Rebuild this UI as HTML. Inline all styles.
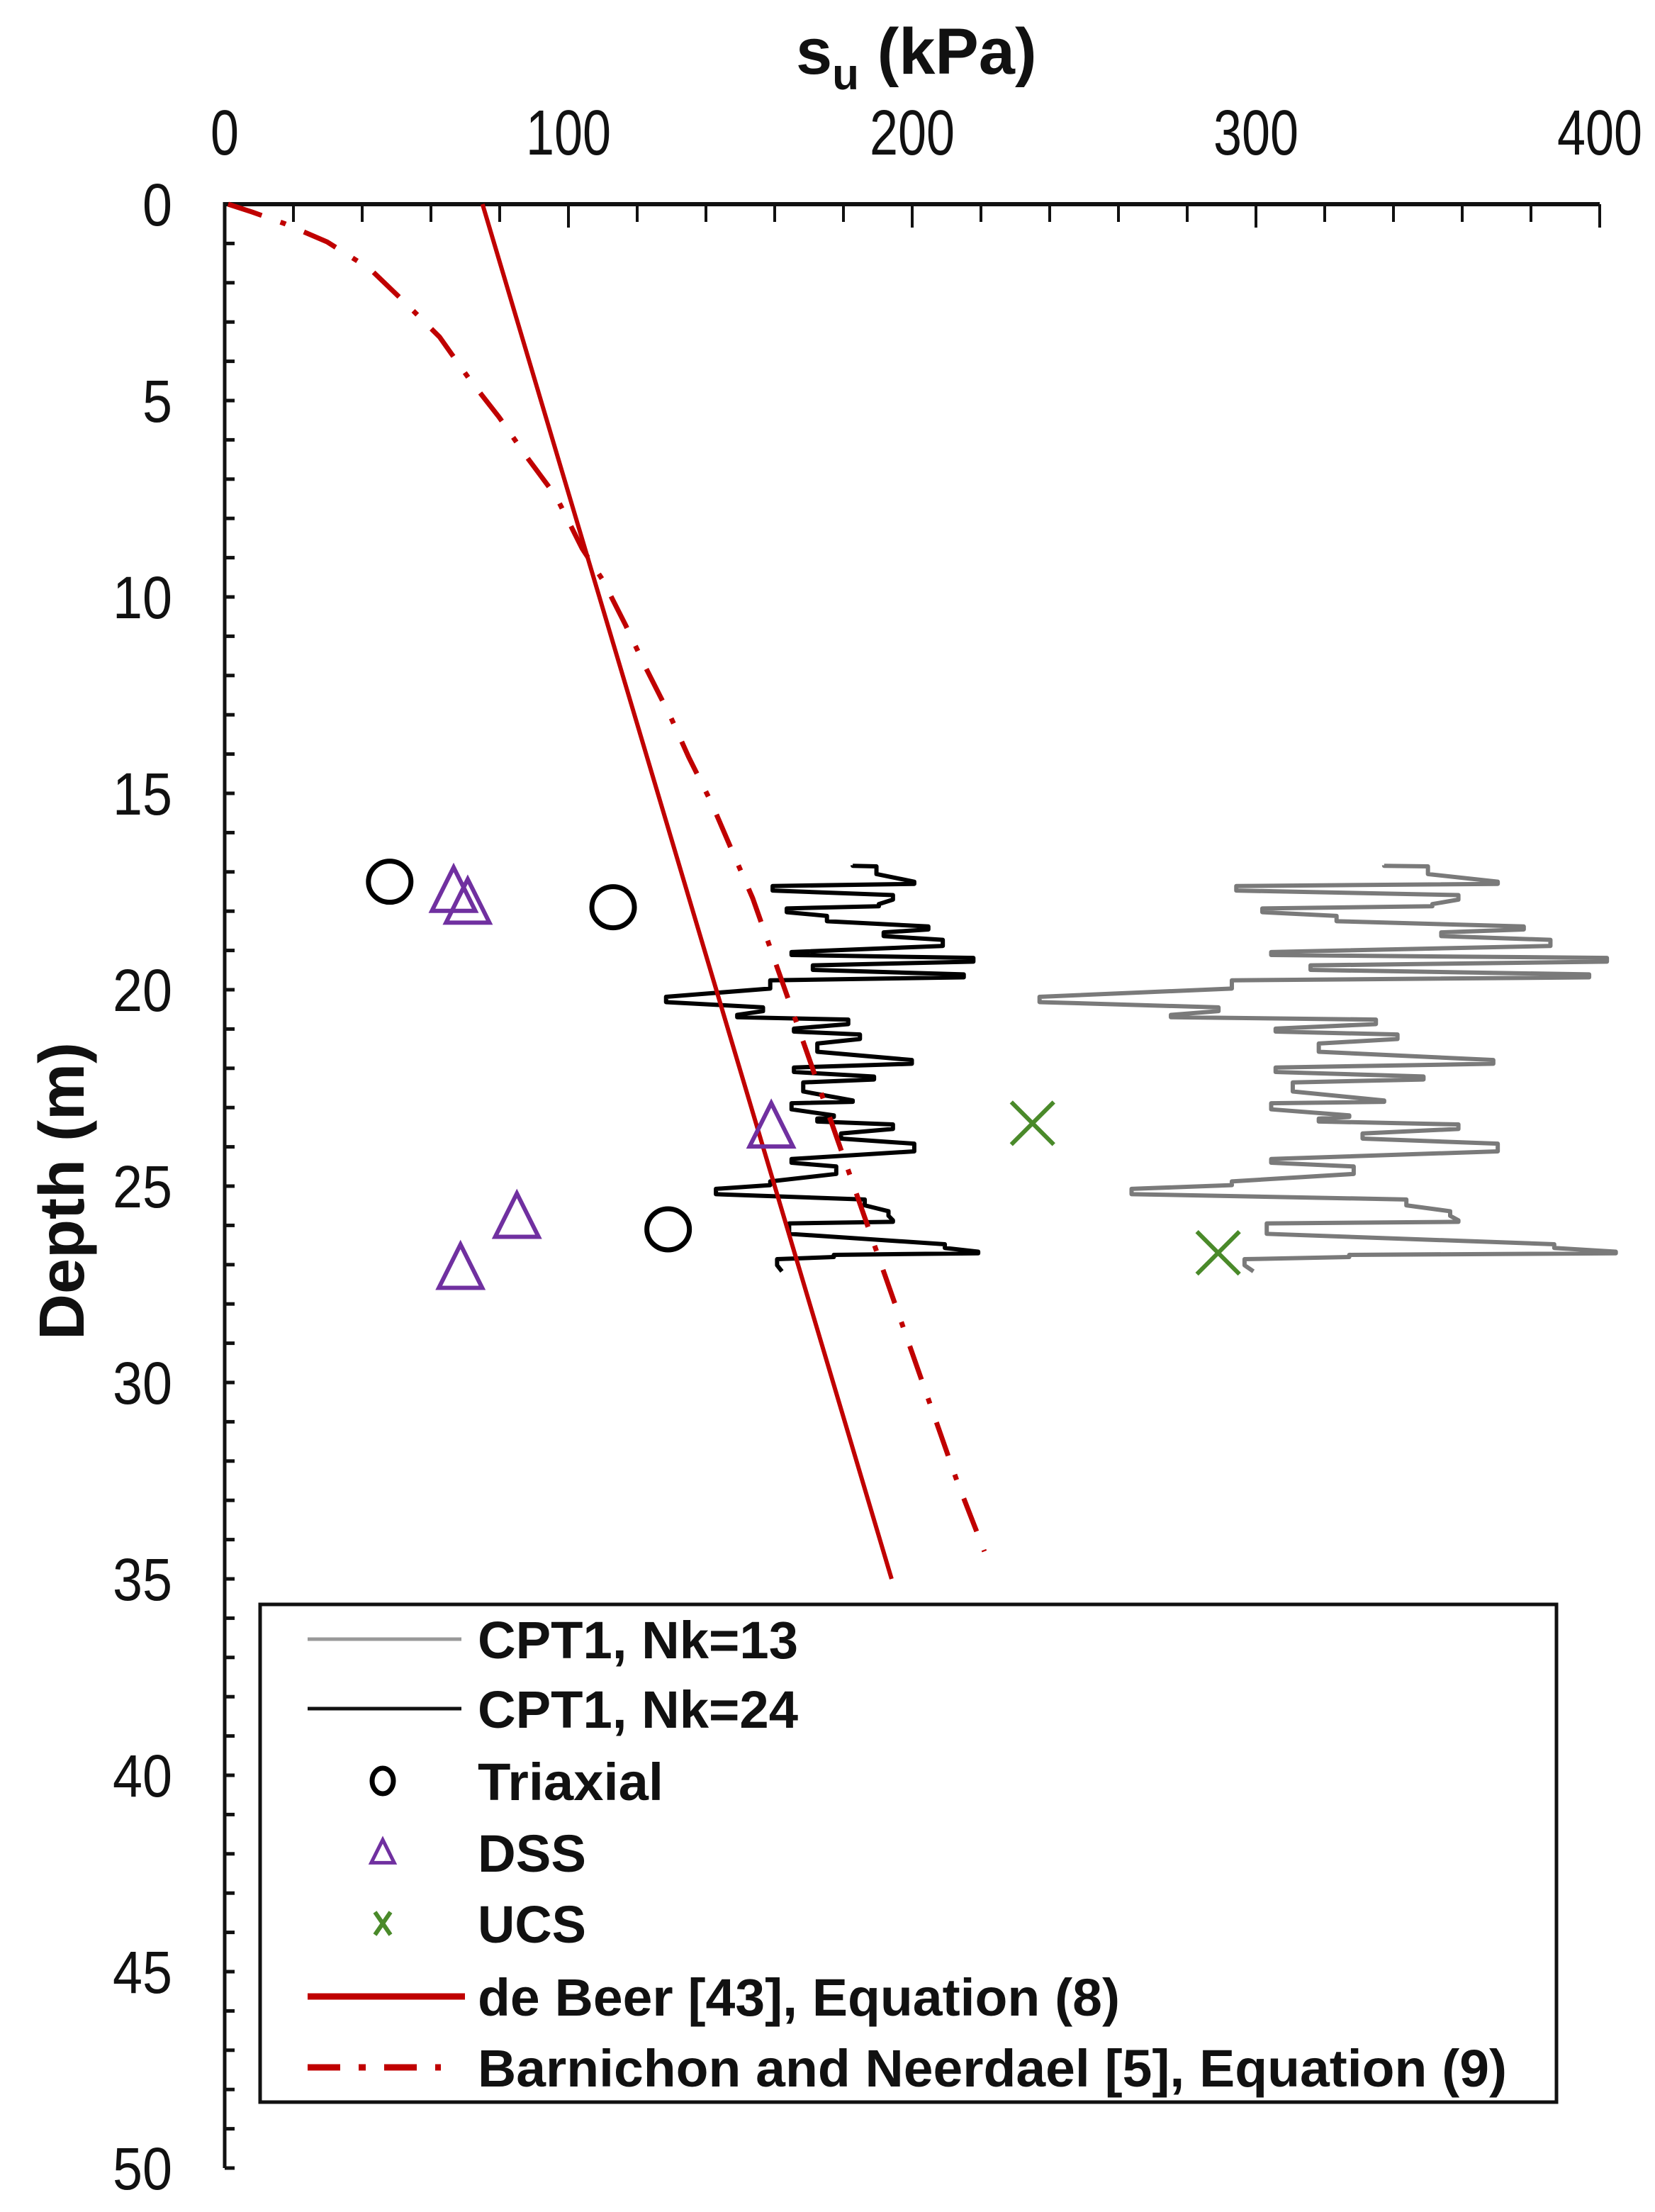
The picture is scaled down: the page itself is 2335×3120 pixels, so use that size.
<!DOCTYPE html>
<html><head><meta charset="utf-8"><style>
html,body{margin:0;padding:0;background:#fff}
svg{display:block;font-family:"Liberation Sans",Arial,sans-serif}
</style></head><body>
<svg id="chart" width="2335" height="3120" viewBox="0 0 2335 3120" xmlns="http://www.w3.org/2000/svg">
<g id="axes"></g>
<g id="series"></g>
<g id="legend"></g>
</svg>
<script>
// ---- data ----
const xTicks = [0, 100, 200, 300, 400];
const yTicks = [0, 5, 10, 15, 20, 25, 30, 35, 40, 45, 50];
const cptDepth = [16.83,16.86,17.25,17.36,17.59,17.82,17.93,18.12,18.39,18.54,18.73,19.04,19.19,19.38,19.61,19.76,20.18,20.45,20.64,20.76,20.99,21.14,21.37,21.79,21.98,22.21,22.36,22.82,22.89,23.20,23.28,23.43,23.66,23.92,24.31,24.50,24.88,25.07,25.34,25.64,25.87,25.95,26.48,26.67,26.75,26.86,27.17];
const cptSuNk24 = [182.7,189.6,200.6,159.4,194.4,190.3,163.5,175.2,204.7,191.7,208.9,164.9,217.8,171.1,215.0,158.7,128.4,156.6,149.1,181.4,165.6,184.8,172.4,199.9,165.6,188.9,168.3,182.7,164.9,177.2,172.4,194.4,179.3,200.6,164.9,177.9,158.7,142.9,186.2,193.1,194.4,164.2,209.5,219.2,177.2,160.7,162.1];
const nkRef = 24;
const nkValues = [13, 24];
const triaxialSu = [48, 113, 129];
const triaxialDepth = [17.25, 17.9, 26.1];
const dssSu = [66.6, 70.7, 159, 85, 68.6];
const dssDepth = [17.5, 17.8, 23.5, 25.8, 27.1];
const ucsSu = [235, 289];
const ucsDepth = [23.4, 26.7];
const deBeerDepth = [0, 35];
const deBeerSu = [75, 194];
const barnDepth = [0, 0.2, 0.49, 0.96, 1.65, 2.5, 3.38, 4.48, 5.42, 6.45, 7.44, 8.77, 9.57, 10.73, 11.82, 13.05, 14.08, 15.24, 16.34, 17.67, 20, 22.5, 25, 27.5, 30, 32.5, 34.3];
const barnSu = [1, 8, 17.3, 29.8, 42.3, 52.4, 62.5, 71.4, 79.8, 88, 96.4, 104, 110, 116.7, 122.6, 129.7, 135, 141.6, 147, 153.6, 163, 173, 183, 193, 203, 213, 221];

// ---- scales ----
const X0 = 317, X1 = 2257, Y0 = 288, Y1 = 3058;
const sx = v => X0 + (v / 400) * (X1 - X0);
const sy = d => Y0 + (d / 50) * (Y1 - Y0);
const NS = 'http://www.w3.org/2000/svg';
function mk(tag, parent, attrs) {
  const e = document.createElementNS(NS, tag);
  for (const k in attrs) e.setAttribute(k, attrs[k]);
  parent.appendChild(e);
  return e;
}
const axes = document.getElementById('axes');
const series = document.getElementById('series');
const legend = document.getElementById('legend');

let el = mk('line', axes, {x1: X0, y1: Y0, x2: X1, y2: Y0, stroke: '#111', 'stroke-width': 6});


el = mk('line', axes, {x1: X0, y1: Y0 - 3, x2: X0, y2: Y1, stroke: '#111', 'stroke-width': 5});


for (let v = 0; v <= 400; v += 20) {
  const major = v % 100 === 0;
  el = mk('line', axes, {x1: sx(v), y1: Y0, x2: sx(v), y2: Y0 + (major ? 33 : 25), stroke: '#111', 'stroke-width': 4});
  
  
}
for (let d = 1; d <= 50; d += 1) {
  el = mk('line', axes, {x1: X0, y1: sy(d), x2: X0 + 14, y2: sy(d), stroke: '#111', 'stroke-width': 5});
  
  
}
xTicks.forEach(v => {
  const s = String(v);
  const t = mk('text', axes, {x: sx(v), y: 218, 'text-anchor': 'middle', 'font-size': 90, fill: '#111', textLength: s.length * 40, lengthAdjust: 'spacingAndGlyphs'});
  t.textContent = s;
  
  
});
yTicks.forEach(d => {
  const s = String(d);
  const t = mk('text', axes, {x: 243, y: sy(d) + 30, 'text-anchor': 'end', 'font-size': 84, fill: '#111', textLength: s.length * 42, lengthAdjust: 'spacingAndGlyphs'});
  t.textContent = s;
  
  
});
let tt = mk('text', axes, {x: 1123, y: 104, 'font-size': 92, 'font-weight': 'bold', fill: '#111'});
tt.innerHTML = 's<tspan font-size="62" dy="22">u</tspan><tspan dy="-22"> (kPa)</tspan>';


tt = mk('text', axes, {x: 0, y: 0, 'font-size': 90, 'font-weight': 'bold', fill: '#111', 'text-anchor': 'middle', transform: 'translate(118,1680) rotate(-90)', textLength: 420, lengthAdjust: 'spacingAndGlyphs'});
tt.textContent = 'Depth (m)';



function cptPath(nk) {
  let p = '';
  for (let i = 0; i < cptDepth.length; i++) {
    const s = cptSuNk24[i] * nkRef / nk;
    const y = sy(cptDepth[i]);
    if (i === 0) p += 'M' + sx(s) + ' ' + y;
    else {
      const prevS = cptSuNk24[i - 1] * nkRef / nk;
      const ym = (y + sy(cptDepth[i - 1])) / 2;
      p += ' L' + sx(prevS) + ' ' + ym + ' L' + sx(s) + ' ' + y;
    }
  }
  return p;
}
el = mk('path', series, {d: cptPath(nkValues[0]), fill: 'none', stroke: '#7a7a7a', 'stroke-width': 6, 'stroke-linejoin': 'round'});


el = mk('path', series, {d: cptPath(nkValues[1]), fill: 'none', stroke: '#000', 'stroke-width': 6, 'stroke-linejoin': 'round'});



el = mk('polyline', series, {points: deBeerDepth.map((d, i) => sx(deBeerSu[i]) + ',' + sy(d)).join(' '), fill: 'none', stroke: '#c00000', 'stroke-width': 6});


el = mk('polyline', series, {points: barnDepth.map((d, i) => sx(barnSu[i]) + ',' + sy(d)).join(' '), fill: 'none', stroke: '#c00000', 'stroke-width': 7, 'stroke-dasharray': '50 28 8 28', 'stroke-linejoin': 'round'});



triaxialSu.forEach((s, i) => {
  const c = mk('ellipse', series, {cx: sx(s), cy: sy(triaxialDepth[i]), rx: 30, ry: 29, fill: 'none', stroke: '#000', 'stroke-width': 7});
  
  
});
function tri(cx, cy, r) {
  return (cx) + ',' + (cy - r) + ' ' + (cx + r * 0.9) + ',' + (cy + r * 0.8) + ' ' + (cx - r * 0.9) + ',' + (cy + r * 0.8);
}
dssSu.forEach((s, i) => {
  const t = mk('polygon', series, {points: tri(sx(s), sy(dssDepth[i]), 34), fill: 'none', stroke: '#7030a0', 'stroke-width': 6});
  
  
});
ucsSu.forEach((s, i) => {
  const cx = sx(s), cy = sy(ucsDepth[i]), r = 30;
  const p = mk('path', series, {d: `M${cx - r} ${cy - r} L${cx + r} ${cy + r} M${cx + r} ${cy - r} L${cx - r} ${cy + r}`, stroke: '#4a8a2a', 'stroke-width': 6});
  
  
});

el = mk('rect', legend, {x: 367, y: 2263, width: 1829, height: 702, fill: '#fff', stroke: '#111', 'stroke-width': 5});


const legLabels = ['CPT1, Nk=13', 'CPT1, Nk=24', 'Triaxial', 'DSS', 'UCS', 'de Beer [43], Equation (8)', 'Barnichon and Neerdael [5], Equation (9)'];
const legWidths = [452, 452, 262, 153, 153, 906, 1452];
const legY = [2312, 2410, 2512, 2613, 2713, 2816, 2916];
legLabels.forEach((lab, i) => {
  const y = legY[i];
  const mx = 540;
  if (i === 0) mk('line', legend, {x1: 434, y1: y, x2: 651, y2: y, stroke: '#999', 'stroke-width': 5});
  if (i === 1) mk('line', legend, {x1: 434, y1: y, x2: 651, y2: y, stroke: '#111', 'stroke-width': 5});
  if (i === 2) mk('ellipse', legend, {cx: mx, cy: y, rx: 15, ry: 18, fill: 'none', stroke: '#000', 'stroke-width': 7});
  if (i === 3) mk('polygon', legend, {points: tri(mx, y, 18), fill: 'none', stroke: '#7030a0', 'stroke-width': 5});
  if (i === 4) mk('path', legend, {d: `M${mx - 11} ${y - 16} L${mx + 11} ${y + 16} M${mx + 11} ${y - 16} L${mx - 11} ${y + 16}`, stroke: '#4a8a2a', 'stroke-width': 6});
  if (i === 5) mk('line', legend, {x1: 434, y1: y, x2: 656, y2: y, stroke: '#c00000', 'stroke-width': 9});
  if (i === 6) mk('line', legend, {x1: 434, y1: y, x2: 622, y2: y, stroke: '#c00000', 'stroke-width': 9, 'stroke-dasharray': '46 26 10 26'});
  const t = mk('text', legend, {x: 674, y: y + 27, 'font-size': 74, 'font-weight': 'bold', fill: '#111', textLength: legWidths[i], lengthAdjust: 'spacingAndGlyphs'});
  t.textContent = lab;
  
  
});
</script>
</body></html>
